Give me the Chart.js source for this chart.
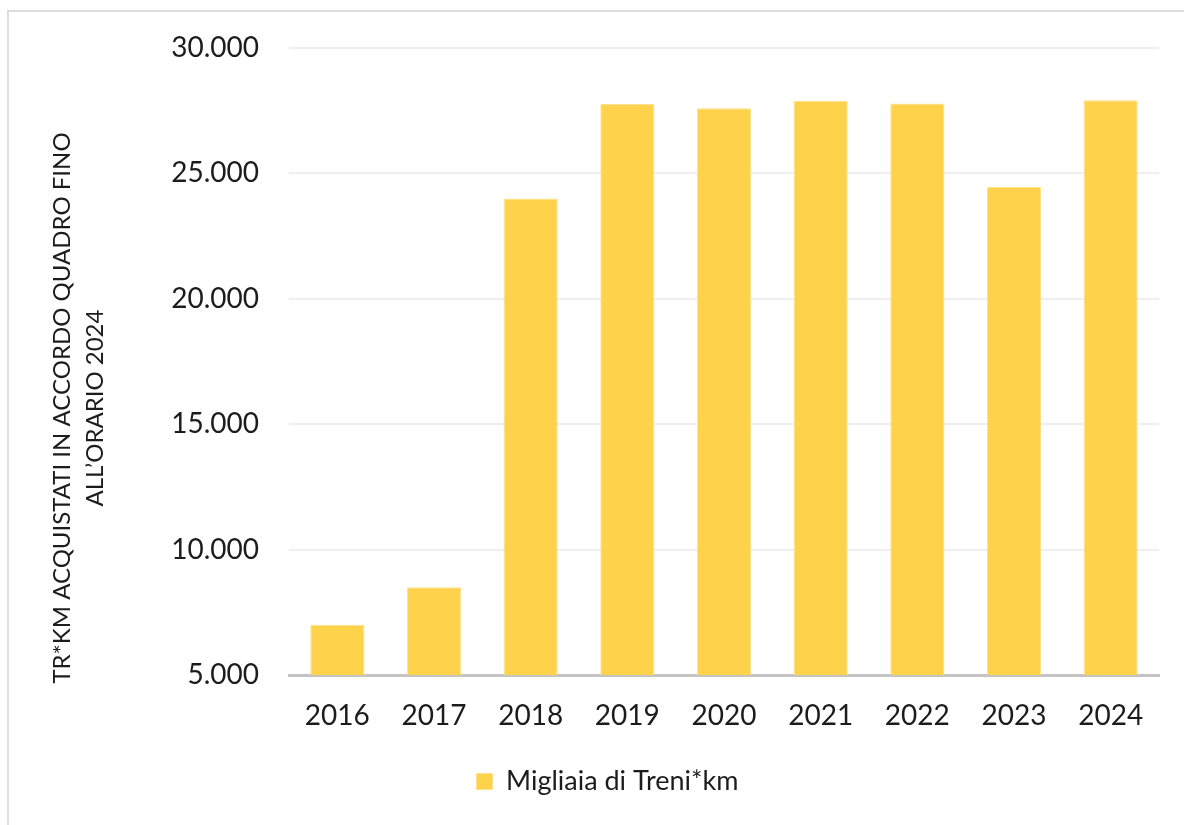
<!DOCTYPE html>
<html>
<head>
<meta charset="utf-8">
<script src="https://cdn.jsdelivr.net/npm/chart.js@4"></script>
<style>
  html, body { margin: 0; padding: 0; background: #fff; }
  #wrap { position: relative; width: 1184px; height: 825px; overflow: hidden; }
  #frame { position: absolute; left: 7px; top: 10px; width: 1200px; height: 840px; border: 2px solid #dedede; box-sizing: border-box; }
  canvas { position: absolute; left: 0; top: 0; }
</style>
</head>
<body>
<div id="wrap">
  <div id="frame"></div>
  <canvas id="c" width="1184" height="825"></canvas>
</div>
<script>
const categories = ['2016', '2017', '2018', '2019', '2020', '2021', '2022', '2023', '2024'];
const seriesName = 'Migliaia di Treni*km';
const seriesValues = [7000, 8500, 24000, 27780, 27600, 27900, 27790, 24460, 27920];
const yTickValues = [5000, 10000, 15000, 20000, 25000, 30000];
const yTitleLines = ['TR*KM ACQUISTATI IN ACCORDO QUADRO FINO', 'ALL\u2019ORARIO 2024'];

const FONT = 'Lato, "Open Sans", sans-serif';
const TEXT = '#1c1c1c';

function fmt(v) {
  return String(v).replace(/\B(?=(\d{3})+(?!\d))/g, '.');
}

const yTitlePlugin = {
  id: 'yTitle',
  afterDraw(chart) {
    const ctx = chart.ctx;
    ctx.save();
    ctx.fillStyle = TEXT;
    ctx.font = '24px ' + FONT;
    ctx.textAlign = 'center';
    ctx.textBaseline = 'middle';
    const cy = 408;
    const xs = [62, 95];
    yTitleLines.forEach((line, i) => {
      ctx.save();
      ctx.translate(xs[i], cy);
      ctx.rotate(-Math.PI / 2);
      ctx.fillText(line, 0, 0);
      ctx.restore();
    });
    ctx.restore();
  }
};

new Chart(document.getElementById('c'), {
  type: 'bar',
  data: {
    labels: categories,
    datasets: [{
      label: seriesName,
      data: seriesValues,
      backgroundColor: 'rgb(255, 210, 76)',
      borderColor: 'rgba(255, 226, 140, 1)',
      borderWidth: 1,
      barPercentage: 0.56,
      categoryPercentage: 1.0
    }]
  },
  options: {
    responsive: false,
    animation: false,
    devicePixelRatio: 1,
    layout: { padding: { left: 56, right: 25, top: 48, bottom: 20 } },
    plugins: {
      legend: {
        position: 'bottom',
        labels: {
          color: TEXT,
          font: { family: FONT, size: 27 },
          boxWidth: 16,
          boxHeight: 16,
          padding: 10
        }
      },
      tooltip: { enabled: false }
    },
    scales: {
      x: {
        grid: { display: false, drawTicks: false },
        border: { display: true, color: '#c4c4c4', width: 3 },
        ticks: { color: TEXT, font: { family: FONT, size: 28 }, padding: 24, maxRotation: 0 },
        afterFit(scale) { scale.height = 83; }
      },
      y: {
        min: 5000,
        max: 30000,
        afterBuildTicks(scale) { scale.ticks = yTickValues.map(v => ({ value: v })); },
        grid: { color: '#efefef', lineWidth: 2, drawTicks: false },
        border: { display: false },
        ticks: {
          color: TEXT,
          font: { family: FONT, size: 28 },
          padding: 30,
          callback: (v) => fmt(v)
        },
        afterFit(scale) { scale.width = 233; }
      }
    }
  },
  plugins: [yTitlePlugin]
});
</script>
</body>
</html>
